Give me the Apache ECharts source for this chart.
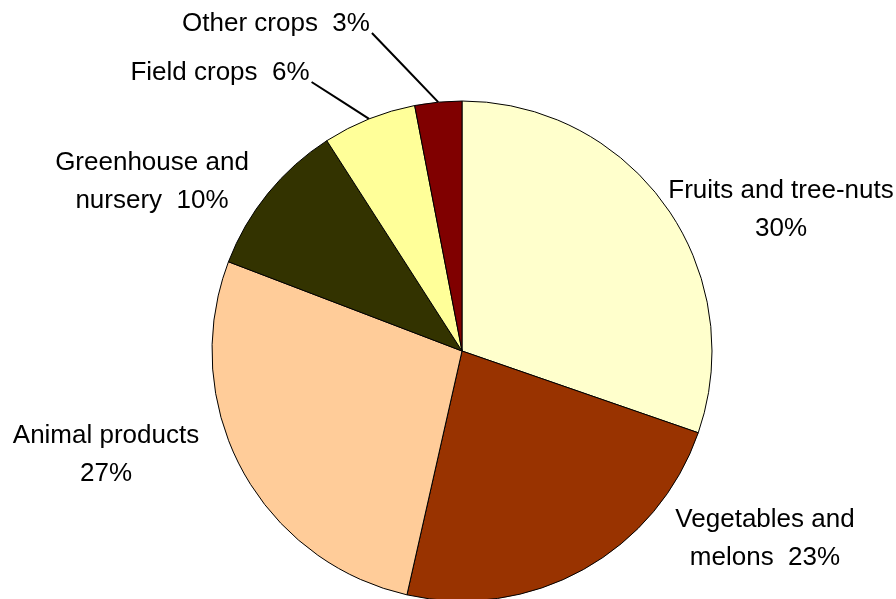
<!DOCTYPE html>
<html>
<head>
<meta charset="utf-8">
<script src="https://cdn.jsdelivr.net/npm/echarts@6/dist/echarts.min.js"></script>
<style>
  html, body { margin: 0; padding: 0; background: #ffffff; }
  #chart { width: 896px; height: 599px; }
</style>
</head>
<body>
<div id="chart"></div>
<script>
// Share of farm sales by commodity group (percent)
const categories = ['Fruits and tree-nuts', 'Vegetables and melons', 'Animal products',
                    'Greenhouse and nursery', 'Field crops', 'Other crops'];
const shares = [30, 23, 27, 10, 6, 3];
const sliceColors = ['#FFFFCC', '#993300', '#FFCC99', '#333300', '#FFFF99', '#800000'];

// How each label wraps: {pct} is replaced by the slice value
const labelTemplates = [
  'Fruits and tree-nuts\n{pct}',
  'Vegetables and\nmelons  {pct}',
  'Animal products\n{pct}',
  'Greenhouse and\nnursery  {pct}',
  'Field crops  {pct}',
  'Other crops  {pct}'
];

// Label block centres (px) and whether a leader line is drawn
const labelSpots = [
  { x: 781, y: 210, line: false },
  { x: 765, y: 539, line: false },
  { x: 106, y: 455, line: false },
  { x: 152, y: 182, line: false },
  { x: 220, y: 73, line: true },
  { x: 276, y: 24, line: true }
];

const chart = echarts.init(document.getElementById('chart'), null, { renderer: 'canvas' });

const FONT = "'Liberation Sans', Arial, Helvetica, sans-serif";

chart.setOption({
  backgroundColor: '#ffffff',
  animation: false,
  series: [{
    type: 'pie',
    center: [462, 351],
    radius: 250,
    startAngle: 90,
    clockwise: true,
    avoidLabelOverlap: false,
    itemStyle: { borderColor: '#000000', borderWidth: 1 },
    emphasis: { disabled: true },
    label: {
      show: true,
      position: 'outside',
      color: '#000000',
      fontFamily: FONT,
      fontSize: 26,
      lineHeight: 38,
      align: 'center',
      formatter: function (p) {
        return labelTemplates[p.dataIndex].replace('{pct}', p.value + '%');
      }
    },
    labelLine: { show: true, length: 10, length2: 10, lineStyle: { color: '#000000', width: 2 } },
    labelLayout: function (params) {
      const spot = labelSpots[params.dataIndex];
      const out = { x: spot.x, y: spot.y, align: 'center', verticalAlign: 'middle' };
      if (spot.line && params.labelLinePoints) {
        const start = params.labelLinePoints[0];
        const endX = spot.x + params.labelRect.width / 2 + 2;
        const endY = spot.y + 9;
        out.labelLinePoints = [start, [(start[0] + endX) / 2, (start[1] + endY) / 2], [endX, endY]];
      }
      return out;
    },
    data: categories.map(function (name, i) {
      const spot = labelSpots[i];
      return {
        name: name,
        value: shares[i],
        itemStyle: { color: sliceColors[i] },
        labelLine: { show: spot.line }
      };
    })
  }]
});
</script>
</body>
</html>
